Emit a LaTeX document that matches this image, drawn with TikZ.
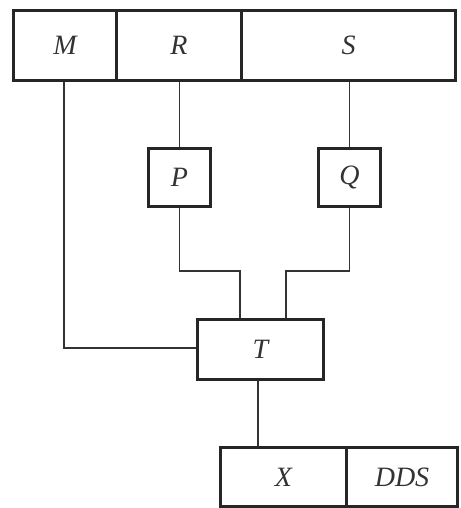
\documentclass[tikz,border=0pt]{standalone}
\usepackage{fontspec}
\setmainfont{Liberation Serif}
\begin{document}
\begin{tikzpicture}[x=1pt,y=-1pt,
  box/.style={draw=black!85,line width=3pt,inner sep=0pt,anchor=north west},
  lbl/.style={font=\fontsize{28}{32}\selectfont\itshape,text=black!80},
  wire/.style={draw=black!80,line width=1.6pt}]
\useasboundingbox (0,0) rectangle (460,508);
% top row of fields
\node[box,minimum width=103pt,minimum height=70pt] (M) at (12,9) {};
\node[box,minimum width=125pt,minimum height=70pt] (R) at (115,9) {};
\node[box,minimum width=214pt,minimum height=70pt] (S) at (240,9) {};
\node[lbl] at (M.center) {M};
\node[lbl] at (R.center) {R};
\node[lbl] at (S.center) {S};
% middle blocks
\node[box,minimum width=62pt,minimum height=58pt] (P) at (147,147) {};
\node[box,minimum width=62pt,minimum height=58pt] (Q) at (317,147) {};
\node[lbl] at (P.center) {P};
\node[lbl] at (Q.center) {Q};
\node[box,minimum width=126pt,minimum height=60pt] (T) at (196,318) {};
\node[lbl] at (T.center) {T};
% bottom row of fields
\node[box,minimum width=126pt,minimum height=59pt] (X) at (219,446) {};
\node[box,minimum width=111pt,minimum height=59pt] (D) at (345,446) {};
\node[lbl] at (X.center) {X};
\node[lbl] at (D.center) {DDS};
% connectors
\coordinate (mc) at (64,348);
\coordinate (jl) at (240,271);
\coordinate (jr) at (286,271);
\draw[wire] (M.south -| mc) -- (mc) -- (T.west |- mc);
\draw[wire] (R.south -| P.north) -- (P.north);
\draw[wire] (S.south -| Q.north) -- (Q.north);
\draw[wire] (P.south) -- (P.south |- jl) -- (jl) -- (T.north -| jl);
\draw[wire] (Q.south) -- (Q.south |- jr) -- (jr) -- (T.north -| jr);
\draw[wire] (T.south -| 258,0) -- (X.north -| 258,0);
\end{tikzpicture}
\end{document}
